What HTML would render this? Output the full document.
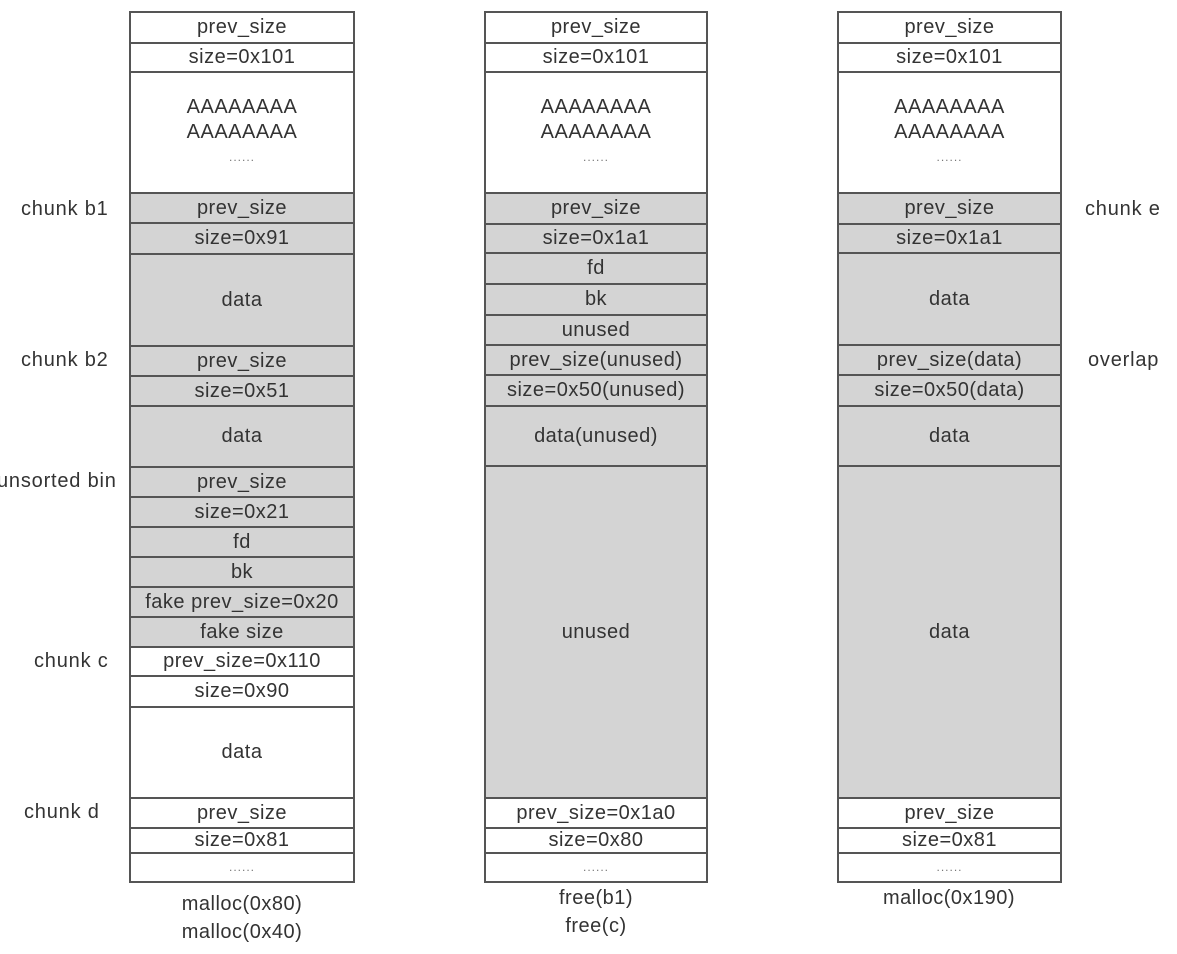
<!DOCTYPE html>
<html><head><meta charset="utf-8"><style>
body{margin:0;width:1177px;height:954px;background:#fff;position:relative;overflow:hidden;font-family:"Liberation Sans",sans-serif;color:#333;}
.r{position:absolute;box-sizing:border-box;border:2px solid #555;display:flex;align-items:center;justify-content:center;text-align:center;font-size:20px;line-height:25px;background:#fff;letter-spacing:0.5px;white-space:nowrap;}
.g{background:#d4d4d4;}
.l{position:absolute;font-size:20px;color:#333;letter-spacing:0.8px;white-space:nowrap;}
.c{position:absolute;font-size:20px;color:#333;text-align:center;width:240px;line-height:28px;letter-spacing:0.5px;}
.dots{font-size:12px;letter-spacing:1px;color:#777;}
</style></head><body>
<!-- column 1 x 129-355 -->
<div class="r" style="left:129px;top:11px;width:226px;height:33px">prev_size</div>
<div class="r" style="left:129px;top:42px;width:226px;height:31px">size=0x101</div>
<div class="r" style="left:129px;top:71px;width:226px;height:123px;flex-direction:column">AAAAAAAA<br>AAAAAAAA<br><span class="dots">......</span></div>
<div class="r g" style="left:129px;top:192px;width:226px;height:32px">prev_size</div>
<div class="r g" style="left:129px;top:222px;width:226px;height:33px">size=0x91</div>
<div class="r g" style="left:129px;top:253px;width:226px;height:94px">data</div>
<div class="r g" style="left:129px;top:345px;width:226px;height:32px">prev_size</div>
<div class="r g" style="left:129px;top:375px;width:226px;height:32px">size=0x51</div>
<div class="r g" style="left:129px;top:405px;width:226px;height:63px">data</div>
<div class="r g" style="left:129px;top:466px;width:226px;height:32px">prev_size</div>
<div class="r g" style="left:129px;top:496px;width:226px;height:32px">size=0x21</div>
<div class="r g" style="left:129px;top:526px;width:226px;height:32px">fd</div>
<div class="r g" style="left:129px;top:556px;width:226px;height:32px">bk</div>
<div class="r g" style="left:129px;top:586px;width:226px;height:32px">fake prev_size=0x20</div>
<div class="r g" style="left:129px;top:616px;width:226px;height:32px">fake size</div>
<div class="r" style="left:129px;top:646px;width:226px;height:31px">prev_size=0x110</div>
<div class="r" style="left:129px;top:675px;width:226px;height:33px">size=0x90</div>
<div class="r" style="left:129px;top:706px;width:226px;height:93px">data</div>
<div class="r" style="left:129px;top:797px;width:226px;height:32px">prev_size</div>
<div class="r" style="left:129px;top:827px;width:226px;height:27px">size=0x81</div>
<div class="r" style="left:129px;top:852px;width:226px;height:31px"><span class="dots">......</span></div>
<div class="c" style="left:122px;top:890px">malloc(0x80)<br>malloc(0x40)</div>
<div class="l" style="left:21px;top:198px">chunk b1</div>
<div class="l" style="left:21px;top:349px">chunk b2</div>
<div class="l" style="left:-3px;top:470px">unsorted bin</div>
<div class="l" style="left:34px;top:650px">chunk c</div>
<div class="l" style="left:24px;top:801px">chunk d</div>

<!-- column 2 x 484-707 -->
<div class="r" style="left:484px;top:11px;width:224px;height:33px">prev_size</div>
<div class="r" style="left:484px;top:42px;width:224px;height:31px">size=0x101</div>
<div class="r" style="left:484px;top:71px;width:224px;height:123px;flex-direction:column">AAAAAAAA<br>AAAAAAAA<br><span class="dots">......</span></div>
<div class="r g" style="left:484px;top:192px;width:224px;height:33px">prev_size</div>
<div class="r g" style="left:484px;top:223px;width:224px;height:31px">size=0x1a1</div>
<div class="r g" style="left:484px;top:252px;width:224px;height:33px">fd</div>
<div class="r g" style="left:484px;top:283px;width:224px;height:33px">bk</div>
<div class="r g" style="left:484px;top:314px;width:224px;height:32px">unused</div>
<div class="r g" style="left:484px;top:344px;width:224px;height:32px">prev_size(unused)</div>
<div class="r g" style="left:484px;top:374px;width:224px;height:33px">size=0x50(unused)</div>
<div class="r g" style="left:484px;top:405px;width:224px;height:62px">data(unused)</div>
<div class="r g" style="left:484px;top:465px;width:224px;height:334px">unused</div>
<div class="r" style="left:484px;top:797px;width:224px;height:32px">prev_size=0x1a0</div>
<div class="r" style="left:484px;top:827px;width:224px;height:27px">size=0x80</div>
<div class="r" style="left:484px;top:852px;width:224px;height:31px"><span class="dots">......</span></div>
<div class="c" style="left:476px;top:884px">free(b1)<br>free(c)</div>

<!-- column 3 x 837-1062 -->
<div class="r" style="left:837px;top:11px;width:225px;height:33px">prev_size</div>
<div class="r" style="left:837px;top:42px;width:225px;height:31px">size=0x101</div>
<div class="r" style="left:837px;top:71px;width:225px;height:123px;flex-direction:column">AAAAAAAA<br>AAAAAAAA<br><span class="dots">......</span></div>
<div class="r g" style="left:837px;top:192px;width:225px;height:33px">prev_size</div>
<div class="r g" style="left:837px;top:223px;width:225px;height:31px">size=0x1a1</div>
<div class="r g" style="left:837px;top:252px;width:225px;height:94px">data</div>
<div class="r g" style="left:837px;top:344px;width:225px;height:32px">prev_size(data)</div>
<div class="r g" style="left:837px;top:374px;width:225px;height:33px">size=0x50(data)</div>
<div class="r g" style="left:837px;top:405px;width:225px;height:62px">data</div>
<div class="r g" style="left:837px;top:465px;width:225px;height:334px">data</div>
<div class="r" style="left:837px;top:797px;width:225px;height:32px">prev_size</div>
<div class="r" style="left:837px;top:827px;width:225px;height:27px">size=0x81</div>
<div class="r" style="left:837px;top:852px;width:225px;height:31px"><span class="dots">......</span></div>
<div class="c" style="left:829px;top:884px">malloc(0x190)</div>
<div class="l" style="left:1085px;top:198px">chunk e</div>
<div class="l" style="left:1088px;top:349px">overlap</div>
</body></html>
